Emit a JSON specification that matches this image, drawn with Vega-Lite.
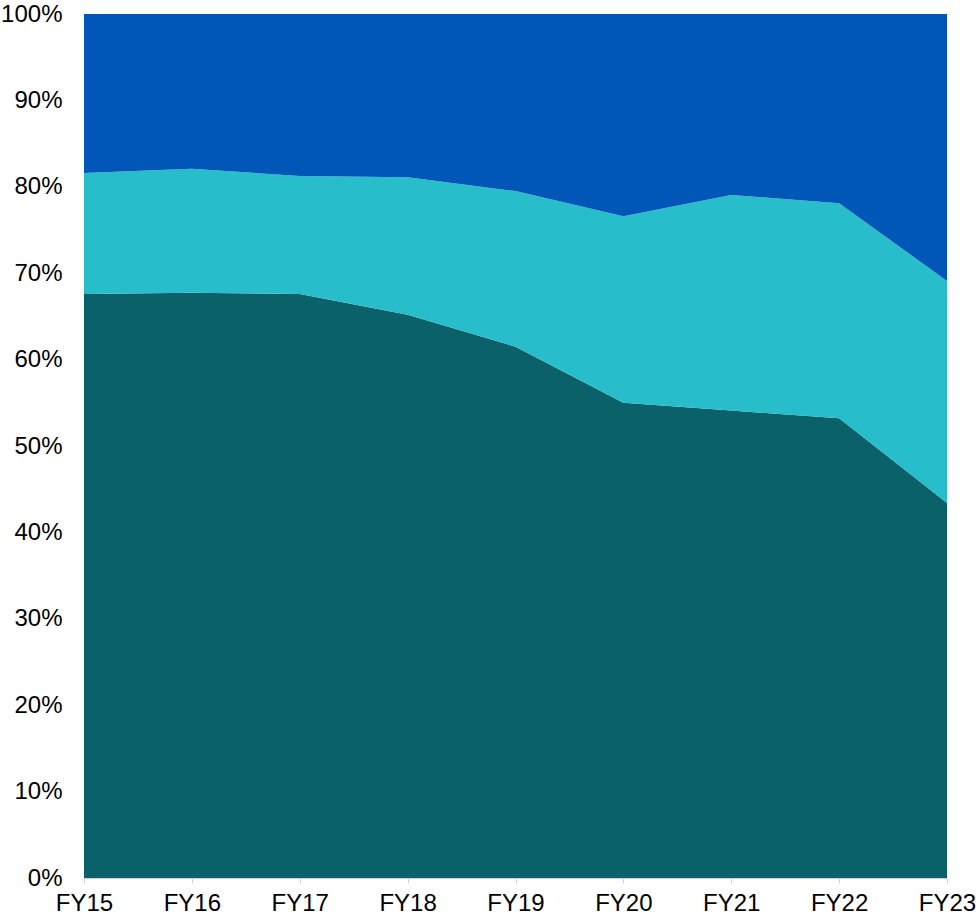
{
  "$schema": "https://vega.github.io/schema/vega-lite/v6.json",
  "width": 863,
  "height": 864,
  "autosize": {"type": "none"},
  "padding": {"left": 84, "top": 14, "right": 29, "bottom": 38},
  "background": "white",
  "config": {
    "view": {"stroke": null},
    "font": "Liberation Sans"
  },
  "data": {
    "values": [
      {"year": "FY15", "segment": "A", "order": 1, "share": 67.6},
      {"year": "FY16", "segment": "A", "order": 1, "share": 67.75},
      {"year": "FY17", "segment": "A", "order": 1, "share": 67.6},
      {"year": "FY18", "segment": "A", "order": 1, "share": 65.2},
      {"year": "FY19", "segment": "A", "order": 1, "share": 61.5},
      {"year": "FY20", "segment": "A", "order": 1, "share": 55.0},
      {"year": "FY21", "segment": "A", "order": 1, "share": 54.1},
      {"year": "FY22", "segment": "A", "order": 1, "share": 53.2},
      {"year": "FY23", "segment": "A", "order": 1, "share": 43.4},
      {"year": "FY15", "segment": "B", "order": 2, "share": 14.0},
      {"year": "FY16", "segment": "B", "order": 2, "share": 14.35},
      {"year": "FY17", "segment": "B", "order": 2, "share": 13.65},
      {"year": "FY18", "segment": "B", "order": 2, "share": 15.9},
      {"year": "FY19", "segment": "B", "order": 2, "share": 18.0},
      {"year": "FY20", "segment": "B", "order": 2, "share": 21.6},
      {"year": "FY21", "segment": "B", "order": 2, "share": 24.95},
      {"year": "FY22", "segment": "B", "order": 2, "share": 24.9},
      {"year": "FY23", "segment": "B", "order": 2, "share": 25.7},
      {"year": "FY15", "segment": "C", "order": 3, "share": 18.4},
      {"year": "FY16", "segment": "C", "order": 3, "share": 17.9},
      {"year": "FY17", "segment": "C", "order": 3, "share": 18.75},
      {"year": "FY18", "segment": "C", "order": 3, "share": 18.9},
      {"year": "FY19", "segment": "C", "order": 3, "share": 20.5},
      {"year": "FY20", "segment": "C", "order": 3, "share": 23.4},
      {"year": "FY21", "segment": "C", "order": 3, "share": 20.95},
      {"year": "FY22", "segment": "C", "order": 3, "share": 21.9},
      {"year": "FY23", "segment": "C", "order": 3, "share": 30.9}
    ]
  },
  "mark": {"type": "area", "interpolate": "linear"},
  "encoding": {
    "x": {
      "field": "year",
      "type": "ordinal",
      "scale": {"type": "point", "padding": 0},
      "axis": {
        "title": null,
        "labelAngle": 0,
        "labelFontSize": 24,
        "labelColor": "#000000",
        "labelPadding": 8,
        "domainColor": "#c9d1d9",
        "domainWidth": 1,
        "tickColor": "#c9d1d9",
        "tickSize": 5,
        "grid": false
      }
    },
    "y": {
      "field": "share",
      "type": "quantitative",
      "stack": "normalize",
      "scale": {"domain": [0, 1], "nice": false},
      "axis": {
        "title": null,
        "format": ".0%",
        "values": [0, 0.1, 0.2, 0.3, 0.4, 0.5, 0.6, 0.7, 0.8, 0.9, 1],
        "labelFontSize": 24,
        "labelColor": "#000000",
        "labelPadding": 22,
        "ticks": false,
        "grid": false,
        "domainColor": "#c9d1d9",
        "domainWidth": 1
      }
    },
    "color": {
      "field": "segment",
      "type": "nominal",
      "scale": {"domain": ["A", "B", "C"], "range": ["#0a616a", "#27bdca", "#0057b7"]},
      "legend": null
    },
    "order": {"field": "order", "type": "quantitative"}
  }
}
